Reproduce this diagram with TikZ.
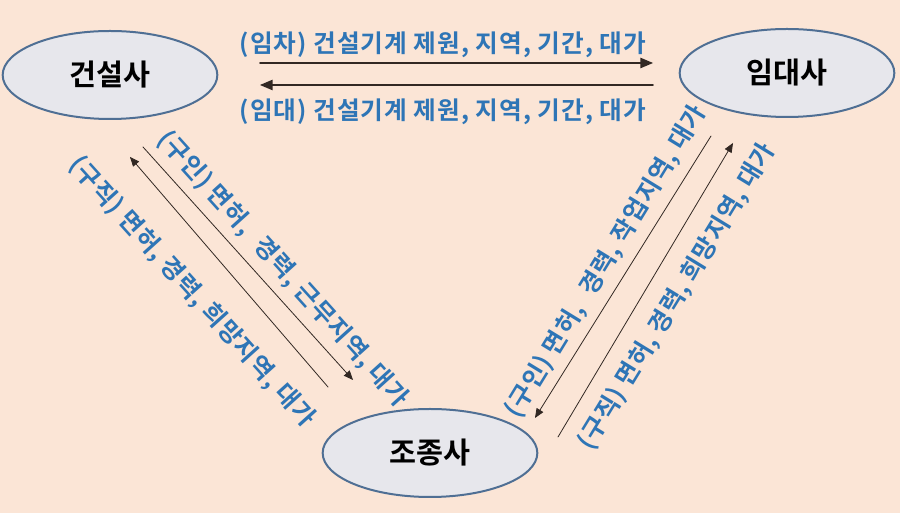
\documentclass[tikz,border=0pt]{standalone}
\usepackage{fontspec}
\setmainfont{Noto Sans CJK KR}[BoldFont={Noto Sans CJK KR Bold}]
\newfontfamily\lblfont{Noto Sans CJK KR Bold}[LetterSpace=4]
\usepackage{xcolor}
\usetikzlibrary{arrows,shapes.geometric}
\definecolor{peach}{RGB}{251,229,214}
\definecolor{lblue}{RGB}{46,117,182}
\definecolor{efill}{RGB}{231,231,236}
\definecolor{eline}{RGB}{79,111,148}
\definecolor{aline}{RGB}{50,40,35}
\begin{document}
\begin{tikzpicture}[line cap=round,line join=round,>=triangle 45,x=0.75pt,y=0.75pt,
  firm/.style={ellipse,draw=eline,line width=1.5pt,fill=efill,minimum width=161pt,minimum height=66pt,inner sep=0pt,font=\fontsize{22}{26}\selectfont\bfseries},
  lbl/.style={color=lblue,font=\fontsize{18.5}{22}\lblfont,inner sep=0pt},
  link/.style={->,line width=1.2pt,color=aline},
  dlink/.style={->,line width=0.6pt,color=aline}]
\fill[peach] (0,0) rectangle (900,513);
\useasboundingbox (0,0) rectangle (900,513);
\node[firm] (gs) at (110,438) {건설사};
\node[firm] (id) at (787,440) {임대사};
\node[firm] (jj) at (430,60) {조종사};
% top pair
\coordinate (t1) at (260,450);
\coordinate (t2) at (653,450);
\coordinate (t3) at (653,428);
\coordinate (t4) at (260,428);
\draw [link] (t1) -- (t2);
\draw [link] (t3) -- (t4);
\node[lbl] (limcha) at (443,468) {(임차) 건설기계 제원, 지역, 기간, 대가};
\node[lbl] (limdae) at (443,401) {(임대) 건설기계 제원, 지역, 기간, 대가};
% left pair
\coordinate (l1) at (143,366);
\coordinate (l2) at (353,133);
\coordinate (l3) at (328,126);
\coordinate (l4) at (130,356);
\draw [dlink] (l1) -- (l2);
\draw [dlink] (l3) -- (l4);
\node[lbl,rotate=-48] (lguin) at (283,244) {(구인) 면허,\hspace{0.3em} 경력, 근무지역, 대가};
\node[lbl,rotate=-48] (lgujik) at (192,221) {(구직) 면허, 경력, 희망지역, 대가};
% right pair
\coordinate (r1) at (711,377);
\coordinate (r2) at (535,95);
\coordinate (r3) at (558,76);
\coordinate (r4) at (733,370);
\draw [dlink] (r1) -- (r2);
\draw [dlink] (r3) -- (r4);
\node[lbl,rotate=58.5] (rguin) at (606,251) {(구인) 면허,\hspace{0.3em} 경력, 작업지역, 대가};
\node[lbl,rotate=58.5] (rgujik) at (677,216) {(구직) 면허, 경력, 희망지역, 대가};
\end{tikzpicture}
\end{document}
